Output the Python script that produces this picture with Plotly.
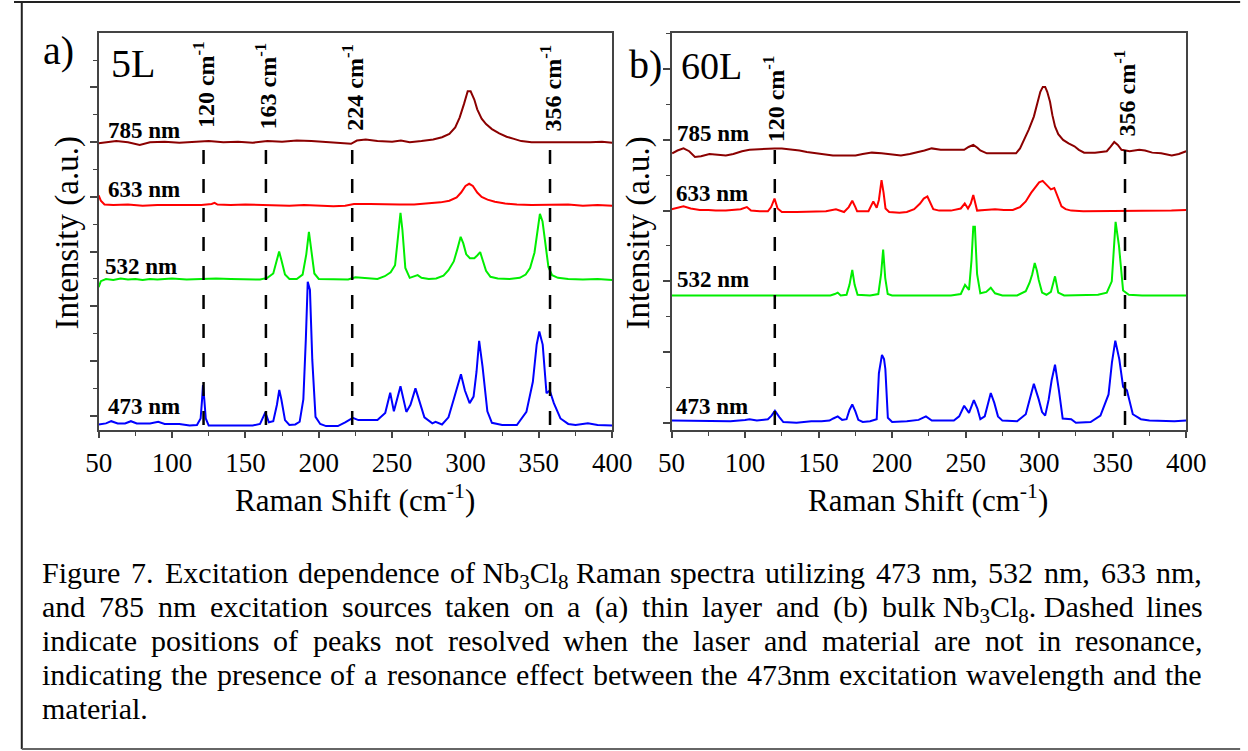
import re
import plotly.graph_objects as go

# ---------------- data ----------------
# Panel (a): 5L sample, intensity in offset a.u. (one major tick = 1)
a785_x = [50, 56, 62, 70, 78, 85, 95, 105, 115, 125, 135, 145, 155, 165, 175, 185, 195, 205, 215, 222, 226, 232,
          240, 250, 256, 262, 270, 278, 284, 289, 293, 296, 299, 301.5, 303.5, 306, 308, 311, 314, 318, 323, 328,
          333, 338, 345, 355, 365, 375, 385, 393, 400]
a785_y = [4.98, 5.0, 5.02, 5.0, 4.95, 5.0, 5.01, 4.99, 5.0, 5.02, 5.0, 5.01, 4.99, 5.02, 5.01, 5.03, 5.02, 5.0, 4.98,
          4.97, 5.03, 5.05, 5.02, 5.01, 5.03, 5.0, 5.02, 5.05, 5.09, 5.15, 5.27, 5.45, 5.7, 5.93, 5.93, 5.78, 5.6,
          5.43, 5.33, 5.24, 5.16, 5.1, 5.06, 5.02, 5.0, 5.0, 4.99, 5.0, 5.0, 5.01, 4.99]

a633_x = [50, 51.5, 54, 60, 70, 80, 90, 100, 110, 120, 127, 129, 131, 140, 150, 160, 170, 180, 190, 200, 210, 218,
          224, 235, 245, 255, 265, 275, 283, 289, 294, 297, 300, 302.5, 305, 308, 311, 315, 320, 327, 335, 345, 360,
          370, 380, 390, 400]
a633_y = [4.03, 3.93, 3.86, 3.85, 3.86, 3.84, 3.85, 3.85, 3.84, 3.85, 3.87, 3.89, 3.86, 3.85, 3.86, 3.85, 3.85, 3.84,
          3.85, 3.84, 3.83, 3.84, 3.87, 3.87, 3.86, 3.86, 3.86, 3.88, 3.9, 3.93, 3.99, 4.08, 4.2, 4.24, 4.2, 4.08,
          4.0, 3.95, 3.91, 3.88, 3.86, 3.85, 3.85, 3.86, 3.84, 3.85, 3.84]

a532_x = [50, 51.5, 55, 60, 65, 70, 75, 80, 85, 90, 95, 100, 110, 120, 130, 140, 150, 160, 165, 169, 171.5, 173,
          174.5, 177, 180, 185, 189, 191.5, 193.3, 195, 197, 200, 210, 220, 225, 232, 240, 245, 249, 252, 254, 255.7,
          257, 259, 262, 265, 267.4, 270, 275, 280, 285, 288.4, 292, 294.5, 296.7, 298.5, 300.5, 303, 306, 308, 310,
          312, 314, 317, 322, 330, 337, 341, 344, 347, 349, 350.7, 352.5, 354.5, 356.5, 359, 363, 370, 380, 390, 400]
a532_y = [2.35, 2.46, 2.5, 2.48, 2.51, 2.49, 2.5, 2.48, 2.5, 2.49, 2.5, 2.51, 2.49, 2.5, 2.51, 2.5, 2.5, 2.49, 2.52,
          2.6, 2.85, 3.0, 2.85, 2.58, 2.5, 2.5, 2.58, 2.95, 3.36, 3.0, 2.6, 2.5, 2.5, 2.49, 2.53, 2.52, 2.5, 2.55,
          2.62, 2.75, 3.3, 3.71, 3.4, 2.7, 2.52, 2.54, 2.57, 2.52, 2.5, 2.51, 2.56, 2.66, 2.82, 3.05, 3.27, 3.15,
          2.95, 2.88, 2.88, 2.93, 2.99, 2.82, 2.65, 2.54, 2.51, 2.5, 2.52, 2.58, 2.7, 2.98, 3.4, 3.69, 3.55, 3.1,
          2.72, 2.57, 2.52, 2.5, 2.49, 2.5, 2.48]

a473_x = [50, 55, 58.6, 63, 68, 72, 76, 85, 90.6, 95, 105, 112, 117, 119.5, 120.5, 121.1, 122, 123, 125, 135, 145,
          155, 160, 163.6, 166, 169, 171.5, 173.1, 174.5, 177, 180, 184, 187, 189.5, 191.2, 192.5, 194, 195.6, 197.8,
          201, 205, 213, 218, 221, 223.2, 227, 233, 240, 245.3, 248.7, 251.2, 255.7, 259.7, 262.5, 265.9, 269, 272,
          277.4, 279.6, 284, 288.4, 292, 294, 296.9, 299.6, 302.8, 305.5, 307.5, 309.3, 311.6, 314.9, 318, 325, 335,
          341.5, 345.9, 348.5, 350.3, 352.6, 355.2, 357.4, 360.2, 364.7, 370, 375, 383.4, 390, 398.7, 400]
a473_y = [-0.16, -0.14, -0.1, -0.14, -0.14, -0.1, -0.14, -0.14, -0.11, -0.15, -0.15, -0.18, -0.17, -0.05, 0.3, 0.56,
          0.3, -0.05, -0.18, -0.18, -0.17, -0.18, -0.15, 0.06, -0.12, -0.1, 0.2, 0.47, 0.3, -0.08, -0.17, -0.16,
          -0.11, 0.3, 1.4, 2.45, 2.3, 1.02, -0.02, -0.15, -0.19, -0.19, -0.12, -0.07, -0.04, -0.08, -0.08, -0.08,
          0.05, 0.42, 0.08, 0.54, 0.07, 0.2, 0.5, 0.25, -0.03, -0.14, -0.11, -0.16, -0.03, 0.3, 0.5, 0.76, 0.46,
          0.23, 0.35, 0.8, 1.37, 0.9, 0.08, -0.13, -0.17, -0.17, 0.07, 0.62, 1.3, 1.54, 1.3, 0.41, 0.46, 0.23,
          -0.05, -0.15, -0.17, -0.14, -0.17, -0.18, -0.18]

# Panel (b): 60L sample
b785_x = [50.4, 54, 58.1, 62, 65.9, 70, 75.8, 81, 86.9, 92, 97.9, 103, 108.9, 115, 120, 125, 131, 137, 142, 148, 153,
          159.7, 167, 175.1, 180, 186.2, 192.8, 200, 206, 212, 217, 222, 226.9, 233, 240.1, 245, 249, 252, 255.2,
          258, 260, 264.4, 272, 278, 284.3, 287, 289.8, 293, 296.4, 298.5, 300.8, 302.5, 304.1, 305.5, 307.4, 309,
          310.8, 313, 316.3, 320, 324, 327, 330.6, 338, 346, 348.5, 351.1, 353.5, 356, 361.5, 368.1, 372, 376.9,
          383, 390.2, 395, 400]
b785_y = [3.81, 3.85, 3.88, 3.84, 3.76, 3.77, 3.8, 3.79, 3.78, 3.8, 3.84, 3.86, 3.87, 3.88, 3.88, 3.88, 3.87, 3.85,
          3.83, 3.81, 3.8, 3.78, 3.78, 3.78, 3.8, 3.82, 3.81, 3.79, 3.78, 3.8, 3.82, 3.85, 3.88, 3.86, 3.86, 3.86,
          3.86, 3.9, 3.93, 3.89, 3.85, 3.81, 3.81, 3.81, 3.81, 3.88, 4.0, 4.15, 4.33, 4.5, 4.68, 4.75, 4.75, 4.68,
          4.54, 4.35, 4.19, 4.08, 4.0, 3.95, 3.91, 3.86, 3.82, 3.82, 3.84, 3.9, 3.97, 3.93, 3.86, 3.84, 3.86, 3.85,
          3.82, 3.81, 3.78, 3.8, 3.84]

b633_x = [50, 54, 58.1, 63, 69.2, 75, 80, 86.9, 92, 97, 101.2, 104, 110, 115.5, 117.7, 120, 122.1, 125, 135, 145, 155,
          161.8, 167.3, 170.5, 172.9, 175, 176.2, 180, 183.9, 187.2, 189.5, 191, 192.8, 194.2, 195.5, 198, 205, 210,
          215, 219, 221.5, 224, 226, 228, 232, 240, 246.7, 249.4, 251.6, 253.5, 255.2, 257.8, 263, 270, 276, 282.1,
          287, 290.9, 294.5, 297.5, 300, 302.4, 304.5, 306.3, 308, 310.3, 312.5, 315.2, 318, 321.8, 330, 340, 350,
          360, 370, 380, 390, 400]
b633_y = [3.02, 3.04, 3.06, 3.03, 3.01, 3.01, 3.0, 3.0, 3.01, 3.02, 3.05, 3.0, 2.99, 2.99, 3.05, 3.17, 3.03, 2.98,
          2.98, 2.98, 2.99, 3.02, 2.98, 3.05, 3.14, 3.05, 2.99, 2.99, 2.99, 3.13, 3.04, 3.15, 3.43, 3.25, 3.03, 2.98,
          2.97, 2.98, 3.02, 3.1, 3.17, 3.2, 3.1, 3.02, 3.0, 3.0, 3.03, 3.1, 3.03, 3.1, 3.22, 3.0, 3.01, 3.02, 3.01,
          3.01, 3.05, 3.13, 3.25, 3.34, 3.4, 3.42, 3.38, 3.34, 3.3, 3.32, 3.2, 3.06, 3.02, 3.0, 2.99, 2.99, 3.0,
          2.99, 2.99, 3.0, 3.0, 3.01]

b532_x = [50, 100, 120, 150, 158, 161, 163, 165, 169, 171, 172.9, 174.5, 176.5, 185, 190.6, 192.5, 193.9, 195.3, 197,
          200, 220, 240, 246.7, 249.6, 252.3, 254, 255.2, 256.3, 257.8, 260, 264, 267.1, 270, 275, 285, 290.9, 293.5,
          295.3, 297, 298.5, 299.7, 302, 305, 308, 310.8, 313, 317, 330, 340, 346, 349.4, 352, 354.3, 357.1, 361,
          370, 400]
b532_y = [1.8, 1.8, 1.8, 1.8, 1.8, 1.82, 1.84, 1.8, 1.81, 1.95, 2.16, 1.95, 1.81, 1.8, 1.82, 2.1, 2.45, 2.05, 1.82,
          1.8, 1.8, 1.8, 1.82, 1.95, 1.88, 2.3, 2.77, 2.77, 2.1, 1.83, 1.85, 1.91, 1.83, 1.8, 1.8, 1.86, 1.98, 2.1,
          2.26, 2.15, 2.02, 1.84, 1.81, 1.85, 2.07, 1.84, 1.8, 1.8, 1.81, 1.84, 2.0, 2.84, 2.5, 1.87, 1.81, 1.8, 1.8]

b473_x = [50, 60, 70, 80, 90, 100, 103, 108, 115.5, 118, 120.3, 123.3, 126, 135, 145, 152, 157.4, 160, 163, 166, 169,
          171, 172.9, 175, 177, 180, 185, 189.5, 191, 193.1, 194.5, 195.4, 197.1, 200, 210, 218, 223, 227, 235, 242,
          245.6, 249, 252.3, 255.6, 258, 260, 263, 267.1, 269.5, 272, 275, 285, 290.9, 294, 296.4, 299.7, 302, 304.1,
          306.5, 308.5, 310.8, 313.5, 316, 321.8, 325, 335, 341.7, 347.2, 349.5, 351.8, 354.5, 357.1, 359.7, 363.7,
          369.2, 375, 385, 392, 400]
b473_y = [0.03, 0.03, 0.02, 0.03, 0.02, 0.04, 0.05, 0.03, 0.05, 0.1, 0.17, 0.08, 0.01, 0.0, 0.02, 0.02, 0.03, 0.06,
          0.09, 0.04, 0.05, 0.18, 0.26, 0.16, 0.04, 0.01, 0.02, 0.05, 0.7, 0.96, 0.9, 0.76, 0.07, 0.01, 0.02, 0.04,
          0.09, 0.03, 0.03, 0.03, 0.09, 0.24, 0.14, 0.32, 0.2, 0.05, 0.09, 0.42, 0.28, 0.09, 0.03, 0.02, 0.12, 0.37,
          0.55, 0.33, 0.15, 0.1, 0.33, 0.6, 0.82, 0.45, 0.06, 0.05, 0.0, 0.01, 0.1, 0.4, 0.85, 1.16, 0.9, 0.51,
          0.46, 0.12, 0.05, 0.03, 0.02, 0.02, 0.03]

wavelength_labels = ["785 nm", "633 nm", "532 nm", "473 nm"]
series_colors = ["#8B0000", "#FF0000", "#00EE00", "#0000FF"]

peak_a_pos = [121.5, 164.0, 222.8, 357.6]
peak_a_labels = ["120", "163", "224", "356"]
peak_b_pos = [120.2, 358.4]
peak_b_labels = ["120", "356"]

x_tick_vals = [50, 100, 150, 200, 250, 300, 350, 400]
x_tick_text = ["50", "100", "150", "200", "250", "300", "350", "400"]

caption_lines = [
    "Figure 7. Excitation dependence of Nb<sub>3</sub>Cl<sub>8</sub> Raman spectra utilizing 473 nm, 532 nm, 633 nm,",
    "and 785 nm excitation sources taken on a (a) thin layer and (b) bulk Nb<sub>3</sub>Cl<sub>8</sub>. Dashed lines",
    "indicate positions of peaks not resolved when the laser and material are not in resonance,",
    "indicating the presence of a resonance effect between the 473nm excitation wavelength and the",
    "material.",
]

# ---------------- layout helpers ----------------
W, H = 1248, 751
SERIF = "Liberation Serif"


def fx(p):
    return p / W


def fy(p):
    return 1 - p / H


fig = go.Figure()

panel_a = [(a785_x, a785_y), (a633_x, a633_y), (a532_x, a532_y), (a473_x, a473_y)]
panel_b = [(b785_x, b785_y), (b633_x, b633_y), (b532_x, b532_y), (b473_x, b473_y)]
for (xs, ys), c, name in zip(panel_a, series_colors, wavelength_labels):
    fig.add_trace(go.Scatter(x=xs, y=ys, mode="lines", name=name, line=dict(color=c, width=2),
                             xaxis="x", yaxis="y", showlegend=False, hoverinfo="skip"))
for (xs, ys), c, name in zip(panel_b, series_colors, wavelength_labels):
    fig.add_trace(go.Scatter(x=xs, y=ys, mode="lines", name=name, line=dict(color=c, width=2),
                             xaxis="x2", yaxis="y2", showlegend=False, hoverinfo="skip"))

AX = "#444444"
xcommon = dict(range=[50, 400], tickmode="array", tickvals=x_tick_vals, ticktext=x_tick_text,
               ticks="outside", ticklen=6, tickwidth=1.5, tickcolor=AX,
               minor=dict(tickmode="linear", tick0=50, dtick=25, ticks="outside", ticklen=4, tickwidth=1.2,
                          tickcolor=AX),
               showline=True, linecolor=AX, linewidth=1.5, mirror=True, showgrid=False, zeroline=False,
               tickfont=dict(family=SERIF, size=27, color="black"), ticklabelstandoff=2)
ycommon = dict(tickmode="linear", tick0=0, dtick=1, ticks="outside", ticklen=7, tickwidth=1.5, tickcolor=AX,
               minor=dict(tickmode="linear", tick0=0, dtick=0.5, ticks="outside", ticklen=4, tickwidth=1.2,
                          tickcolor=AX),
               showticklabels=False, showline=True, linecolor=AX, linewidth=1.5, mirror=True,
               showgrid=False, zeroline=False)

ydom = [fy(430), fy(33)]
fig.update_layout(
    width=W, height=H, margin=dict(l=0, r=0, t=0, b=0),
    paper_bgcolor="white", plot_bgcolor="white", showlegend=False,
    font=dict(family=SERIF),
    xaxis=dict(domain=[fx(87), fx(615)], anchor="y", **xcommon),
    yaxis=dict(domain=ydom, anchor="x", range=[-0.261, 6.996], **ycommon),
    xaxis2=dict(domain=[fx(676), fx(1205)], anchor="y2", **xcommon),
    yaxis2=dict(domain=ydom, anchor="x2", range=[-0.103, 5.512], **ycommon),
)

shapes = []
dash = dict(color="black", width=2.5, dash="14px,15px")
for v in peak_a_pos:
    shapes.append(dict(type="line", xref="x", yref="y", x0=v, x1=v, y0=4.857, y1=-0.261, line=dash))
for v in peak_b_pos:
    shapes.append(dict(type="line", xref="x2", yref="y2", x0=v, x1=v, y0=3.857, y1=-0.103, line=dash))
# outer frame of the figure
shapes.append(dict(type="line", xref="paper", yref="paper", x0=0, x1=1.01, y0=fy(2), y1=fy(2),
                   line=dict(color="#222", width=2)))
shapes.append(dict(type="line", xref="paper", yref="paper", x0=fx(8), x1=fx(8), y0=fy(2), y1=fy(749),
                   line=dict(color="#222", width=2)))
shapes.append(dict(type="line", xref="paper", yref="paper", x0=fx(8), x1=1.01, y0=fy(749), y1=fy(749),
                   line=dict(color="#666", width=2)))
fig.update_layout(shapes=shapes)

ann = []


def text_ann(txt, xp, baseline, size, bold=False, anchor="left"):
    return dict(text=f"<b>{txt}</b>" if bold else txt, xref="paper", yref="paper", x=fx(xp),
                y=fy(baseline - 0.3375 * size), xanchor=anchor, yanchor="middle", showarrow=False,
                font=dict(family=SERIF, size=size, color="black"))


# rotated peak labels
for v, lab, bot in zip(peak_a_pos, peak_a_labels, [128, 129, 131, 132]):
    ann.append(dict(text=f"<b>{lab} cm<sup>-1</sup></b>", xref="x", yref="paper", x=v, y=fy(bot + 2),
                    xanchor="center", yanchor="bottom", textangle=-90, showarrow=False,
                    font=dict(family=SERIF, size=24, color="black")))
for v, lab, bot in zip(peak_b_pos, peak_b_labels, [142, 137]):
    ann.append(dict(text=f"<b>{lab} cm<sup>-1</sup></b>", xref="x2", yref="paper", x=v, y=fy(bot + 2),
                    xanchor="center", yanchor="bottom", textangle=-90, showarrow=False,
                    font=dict(family=SERIF, size=24, color="black")))

# wavelength labels (left x, baseline in px)
for lab, (xp, bl) in zip(wavelength_labels, [(95, 138), (95, 197), (91, 274), (95, 414)]):
    ann.append(text_ann(lab, xp, bl, 23, bold=True))
for lab, (xp, bl) in zip(wavelength_labels, [(680, 141), (678, 201), (680, 287), (678, 414)]):
    ann.append(text_ann(lab, xp, bl, 23, bold=True))

# panel letters / sample names
ann.append(text_ann("a)", 28, 64, 40))
ann.append(text_ann("5L", 98, 77, 40))
ann.append(text_ann("b)", 630, 78, 40))
ann.append(text_ann("60L", 684, 79, 38))

# axis titles
for xc in (56, 642):
    ann.append(dict(text="Intensity (a.u.)", xref="paper", yref="paper", x=fx(xc), y=fy(233),
                    xanchor="center", yanchor="middle", textangle=-90, showarrow=False,
                    font=dict(family=SERIF, size=33, color="black")))
for xc in (351, 940):
    ann.append(dict(text="Raman Shift (cm<sup>-1</sup>)", xref="paper", yref="paper", x=fx(xc), y=fy(499),
                    xanchor="center", yanchor="middle", showarrow=False,
                    font=dict(family=SERIF, size=31, color="black")))

# caption, justified word by word (Times metrics, per 1000 em)
TNR = {' ': 250, '!': 333, '"': 408, '#': 500, '$': 500, '%': 833, '&': 778, "'": 180, '(': 333, ')': 333,
       '*': 500, '+': 564, ',': 250, '-': 333, '.': 250, '/': 278, ':': 278, ';': 278, '?': 444,
       'A': 722, 'B': 667, 'C': 667, 'D': 722, 'E': 611, 'F': 556, 'G': 722, 'H': 722, 'I': 333, 'J': 389,
       'K': 722, 'L': 611, 'M': 889, 'N': 722, 'O': 722, 'P': 556, 'Q': 722, 'R': 667, 'S': 556, 'T': 611,
       'U': 722, 'V': 722, 'W': 944, 'X': 722, 'Y': 722, 'Z': 611,
       'a': 444, 'b': 500, 'c': 444, 'd': 500, 'e': 444, 'f': 333, 'g': 500, 'h': 500, 'i': 278, 'j': 278,
       'k': 500, 'l': 278, 'm': 778, 'n': 500, 'o': 500, 'p': 500, 'q': 500, 'r': 333, 's': 389, 't': 278,
       'u': 500, 'v': 500, 'w': 722, 'x': 500, 'y': 500, 'z': 444}
for d in "0123456789":
    TNR[d] = 500


def tw(s, size):
    w, scale = 0.0, 1.0
    for part in re.split(r"(<sub>|</sub>)", s):
        if part == "<sub>":
            scale = 0.7
            continue
        if part == "</sub>":
            scale = 1.0
            continue
        for ch in part:
            w += TNR.get(ch, 500) * scale
    return w * size / 1000.0 * 1.02


def group_words(line):
    # keep a word with a chemical subscript together with its neighbours
    words = line.split(" ")
    out = []
    i = 0
    while i < len(words):
        if i + 1 < len(words) and "<sub>" in words[i + 1]:
            grp = [words[i], words[i + 1]]
            if i + 2 < len(words):
                grp.append(words[i + 2])
            out.append(" ".join(grp))
            i += len(grp)
        else:
            out.append(words[i])
            i += 1
    return out


CAP_SIZE = 30
CAP_L, CAP_R = 29, 1221
cap_baselines = [583, 617, 651, 685, 719]
for i, (line, bl) in enumerate(zip(caption_lines, cap_baselines)):
    words = group_words(line)
    widths = [tw(w, CAP_SIZE) for w in words]
    if i < len(caption_lines) - 1 and len(words) > 1:
        gap = (CAP_R - CAP_L - sum(widths)) / (len(words) - 1)
    else:
        gap = TNR[' '] * CAP_SIZE / 1000.0
    x = CAP_L
    for w, wd in zip(words, widths):
        ann.append(dict(text=w, xref="paper", yref="paper", x=fx(x - 2), y=fy(bl - 0.891 * CAP_SIZE - 2),
                        xanchor="left", yanchor="top", showarrow=False,
                        font=dict(family=SERIF, size=CAP_SIZE, color="black")))
        x += wd + gap

fig.update_layout(annotations=ann)
fig.write_html("out.html")
